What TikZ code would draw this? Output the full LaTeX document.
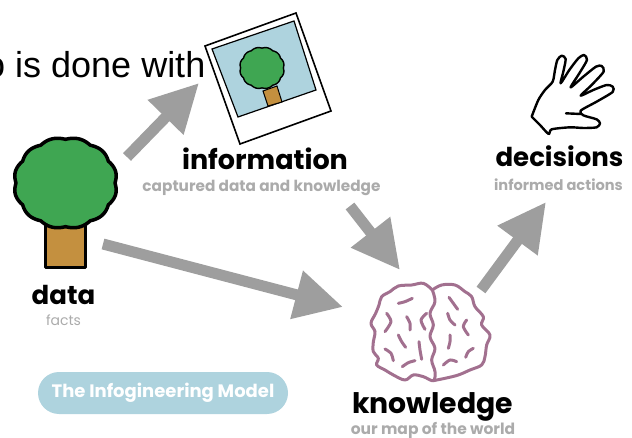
\documentclass[tikz,border=0pt]{standalone}
\usepackage{fontspec}
\usetikzlibrary{arrows.meta}
\setmainfont{Liberation Sans}
\newfontfamily\labf{Poppins}
\definecolor{arrowgray}{HTML}{9E9E9E}
\definecolor{subgray}{HTML}{ABABAB}
\definecolor{leaf}{HTML}{3FA652}
\definecolor{bark}{HTML}{C4903F}
\definecolor{sky}{HTML}{AED3DE}
\definecolor{brainc}{HTML}{A2708F}
\newcommand{\crownpath}[5]{\draw[fill=leaf,draw=black,line width=#5,line join=round] plot[domain=0:360,samples=241] ({#1+#3*(0.97+0.045*abs(sin(6*\x)))*cos(\x)},{#2+#4*(0.97+0.045*abs(sin(6*\x)))*sin(\x)}) -- cycle;}
\newcommand{\titlesize}[1]{\labf\bfseries\fontsize{#1}{#1}\selectfont}
\tikzset{
  block/.style={draw=arrowgray,line width=11pt,-{Triangle[length=48pt,width=47pt,color=arrowgray]},shorten >=0pt},
  title/.style={anchor=base,inner sep=0pt,text=black},
  subtitle/.style={anchor=base,inner sep=0pt,text=subgray},
  curl/.style={draw=brainc,line width=3pt,line cap=round,line join=round},
  handline/.style={draw=black,line width=2.4pt,line join=round,line cap=round}
}
\begin{document}
\begin{tikzpicture}[x=1pt,y=-1pt]
\useasboundingbox (0,0) rectangle (632,438);
\clip (0,0) rectangle (632,438);
\node[anchor=base west,inner sep=0pt,font=\fontsize{36}{36}\selectfont] (caption) at (-15,78) {o is done with};

% data tree
\draw[fill=bark,draw=black,line width=3pt,line join=round] (45,226) rectangle (85,268);
\crownpath{65.5}{183}{51}{45}{3.5pt}
\node[title,font=\titlesize{26}] (data) at (63.5,305) {data};
\node[subtitle,font=\labf\fontsize{14}{14}\selectfont] (facts) at (63.5,326) {facts};

% polaroid
\draw[fill=white,draw=black,line width=1.6pt,line join=miter] (205,46) -- (296,13) -- (331,111) -- (240,144) -- cycle;
\draw[fill=sky,draw=black,line width=1.2pt] (212,49) -- (294,21) -- (316,90) -- (238,117) -- cycle;
\draw[fill=bark,draw=black,line width=1pt] (263,91) -- (277,86) -- (282,102) -- (268,106) -- cycle;
\crownpath{262}{68}{22}{20.5}{1.4pt}
\node[title,font=\titlesize{27}] (information) at (265,170) {information};
\node[subtitle,font=\titlesize{15.3}] (infosub) at (261.5,192) {captured data and knowledge};

% decisions hand
\begin{scope}[shift={(470,30)},x=0.3333pt,y=-0.3333pt]
\draw[handline,fill=white] plot[smooth,tension=0.45] coordinates {(185,260) (205,210) (225,180) (248,155) (255,120) (262,90) (275,77) (287,87) (280,125) (272,160) (298,120) (325,85) (342,75) (351,90) (328,130) (302,172) (340,140) (378,110) (395,108) (401,125) (365,165) (332,197) (370,180) (410,165) (428,170) (428,186) (380,215) (332,242) (340,256) (380,268) (390,280) (380,292) (340,294) (300,292) (245,298) (236,312) (210,285) (185,260)};
\draw[handline] (288,250) -- (332,252);
\end{scope}
\node[title,font=\titlesize{26}] (decisions) at (559.5,167) {decisions};
\node[subtitle,font=\titlesize{14.6}] (decsub) at (558.5,191) {informed actions};

% knowledge brain
\begin{scope}[shift={(355,270)},x=0.3333pt,y=-0.3333pt]
\draw[curl,fill=white] plot[smooth,tension=0.6] coordinates {(232,60) (205,40) (170,45) (130,48) (105,65) (80,80) (72,105) (62,130) (48,160) (60,185) (55,215) (55,245) (70,265) (65,285) (90,300) (115,315) (150,330) (175,315) (205,320) (235,332) (240,305) (230,270) (240,235) (225,200) (235,165) (225,130) (240,95) (232,60)};
\draw[curl] plot[smooth,tension=0.6] coordinates {(232,60) (260,45) (300,45) (330,65) (350,80) (360,110) (385,140) (380,165) (405,195) (395,225) (390,260) (380,285) (345,300) (310,315) (270,325) (235,332)};
\draw[curl] plot[smooth] coordinates {(130,100) (150,95) (172,85)};
\draw[curl] plot[smooth] coordinates {(95,130) (108,155) (90,185)};
\draw[curl] plot[smooth] coordinates {(155,140) (165,160) (165,180)};
\draw[curl] plot[smooth] coordinates {(215,130) (198,150) (210,178)};
\draw[curl] plot[smooth] coordinates {(130,195) (140,215) (152,232)};
\draw[curl] plot[smooth] coordinates {(192,215) (195,240) (200,268)};
\draw[curl] plot[smooth] coordinates {(90,237) (108,250) (115,272)};
\draw[curl] plot[smooth] coordinates {(142,290) (160,278) (180,272)};
\draw[curl] plot[smooth] coordinates {(282,82) (295,100) (308,118)};
\draw[curl] plot[smooth] coordinates {(278,130) (285,150) (300,165)};
\draw[curl] plot[smooth] coordinates {(335,150) (325,170) (340,195)};
\draw[curl] plot[smooth] coordinates {(285,195) (285,215) (280,235)};
\draw[curl] plot[smooth] coordinates {(355,235) (340,245) (332,262)};
\draw[curl] plot[smooth] coordinates {(265,285) (285,270) (305,275)};
\end{scope}
\node[title,font=\titlesize{28.3}] (knowledge) at (432.5,413) {knowledge};
\node[subtitle,font=\titlesize{15.5}] (knowsub) at (433,434.5) {our map of the world};

% pill
\node[anchor=center,fill=sky,rounded corners=21pt,minimum width=250pt,minimum height=42pt,inner sep=0pt,text=white,font=\titlesize{18}] (model) at (163,393) {The Infogineering Model};

% connectors
\coordinate (a1s) at (127,157); \coordinate (a1e) at (199,83);
\coordinate (a2s) at (103,244); \coordinate (a2e) at (343,307);
\coordinate (a3s) at (350,206); \coordinate (a3e) at (400,270);
\coordinate (a4s) at (481,290); \coordinate (a4e) at (546,202);
\draw[block] (a1s) -- (a1e);
\draw[block] (a2s) -- (a2e);
\draw[block] (a3s) -- (a3e);
\draw[block] (a4s) -- (a4e);
\end{tikzpicture}
\end{document}
